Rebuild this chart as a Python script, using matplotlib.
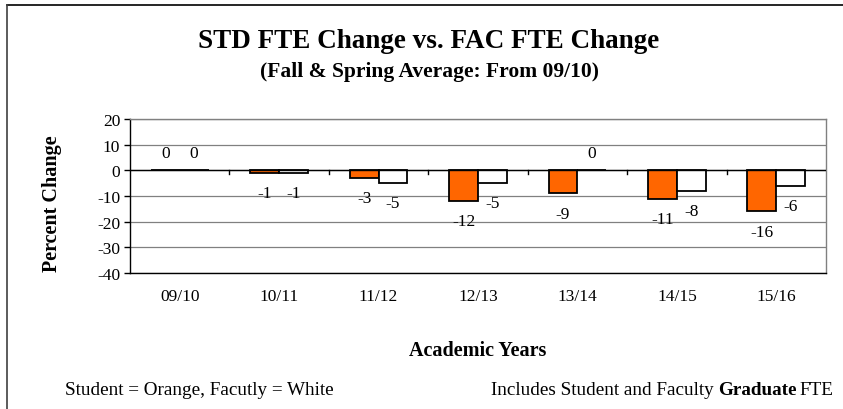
import matplotlib.pyplot as plt
import numpy as np
from matplotlib.lines import Line2D

plt.rcParams['font.family'] = ['Liberation Serif', 'DejaVu Serif']
plt.rcParams['axes.unicode_minus'] = False

years = ['09/10', '10/11', '11/12', '12/13', '13/14', '14/15', '15/16']
student = [0, -1, -3, -12, -9, -11, -16]
faculty = [0, -1, -5, -5, 0, -8, -6]

W, H = 843, 410
fig = plt.figure(figsize=(W / 100, H / 100), dpi=100)
ax = fig.add_axes([130 / W, 1 - 274 / H, 696 / W, 154 / H])

x = np.arange(len(years))
w = 0.29
ax.bar(x - w / 2, student, w, color='#FF6600', edgecolor='black', linewidth=1.3, zorder=3)
ax.bar(x + w / 2, faculty, w, color='white', edgecolor='black', linewidth=1.3, zorder=3)

# value labels
for xs, vals in ((x - w / 2, student), (x + w / 2, faculty)):
    for xi, v in zip(xs, vals):
        off = -14.5 if v < 0 else 12.5
        ax.annotate(str(v), (xi, v), xytext=(0, off), textcoords='offset points',
                    ha='center', va='center', fontsize=12.5)

ax.set_xlim(-0.5, len(years) - 0.5)
ax.set_ylim(-40, 20)
ax.set_yticks(range(-40, 21, 10))
ax.yaxis.grid(True, color='#808080', linewidth=0.9, zorder=0)
ax.axhline(0, color='black', linewidth=1, zorder=4)

# category boundary ticks on the zero line
for b in np.arange(0.5, len(years) - 0.5, 1):
    ax.plot([b, b], [0, -1.6], color='black', linewidth=1, zorder=4)

ax.set_xticks(x)
ax.set_xticklabels(years, fontsize=12.5)
ax.tick_params(axis='x', length=0, pad=11)
ax.tick_params(axis='y', labelsize=12.5, length=4, width=1, direction='out', pad=3)
ax.spines['left'].set_color('black')
ax.spines['bottom'].set_color('black')
ax.spines['top'].set_color('#808080')
ax.spines['right'].set_color('#808080')
for s in ax.spines.values():
    s.set_linewidth(1)

fig.text(52 / W, 1 - 204 / H, 'Percent Change', rotation=90, ha='center', va='center',
         fontsize=14.5, fontweight='bold')

fig.text(429 / W, 1 - 42 / H, 'STD FTE Change vs. FAC FTE Change', ha='center', va='center',
         fontsize=19.5, fontweight='bold')
fig.text(429 / W, 1 - 72 / H, '(Fall & Spring Average: From 09/10)', ha='center', va='center',
         fontsize=15.5, fontweight='bold')
fig.text(478 / W, 1 - 351 / H, 'Academic Years', ha='center', va='center',
         fontsize=14.5, fontweight='bold')

fy = 1 - 391 / H
fig.text(65 / W, fy, 'Student = Orange, Facutly = White', ha='left', va='center', fontsize=13.8)
t1 = fig.text(491 / W, fy, 'Includes Student and Faculty ', ha='left', va='center', fontsize=13.8)
fig.canvas.draw()
bb = t1.get_window_extent()
t2 = fig.text(bb.x1 / W, fy, 'Graduate', ha='left', va='center', fontsize=13.8, fontweight='bold')
bb2 = t2.get_window_extent()
fig.text((bb2.x1 + 2) / W, fy, 'FTE', ha='left', va='center', fontsize=13.8)

# outer frame (top and left)
fig.add_artist(Line2D([7 / W, 1], [1 - 6 / H, 1 - 6 / H], color='black', linewidth=1.2,
                      transform=fig.transFigure))
fig.add_artist(Line2D([7 / W, 7 / W], [0, 1 - 6 / H], color='#404040', linewidth=1.2,
                      transform=fig.transFigure))

fig.savefig('out.png', dpi=100)
